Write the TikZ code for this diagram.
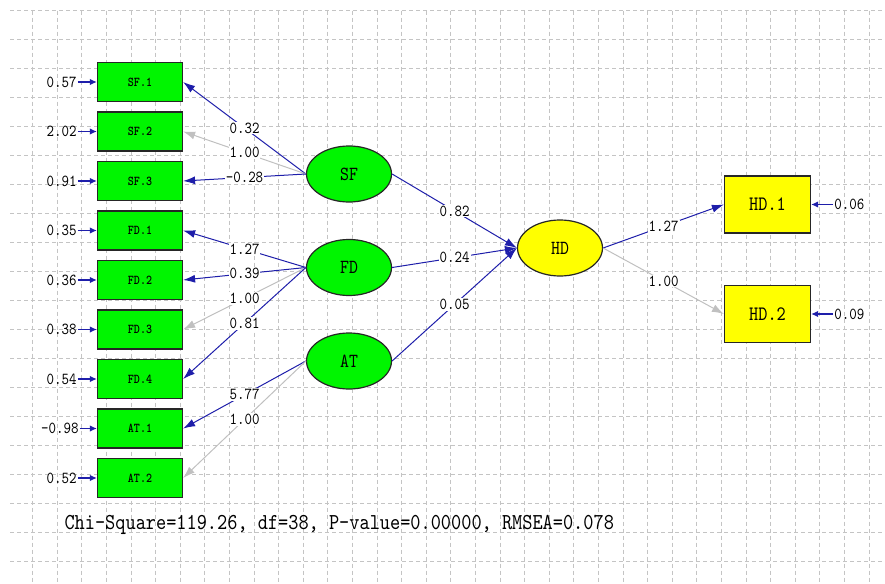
\documentclass[tikz,border=0pt]{standalone}
\usepackage{fontspec}
\usepackage{tikz}
\usetikzlibrary{arrows.meta}
\usetikzlibrary{shapes.geometric}
\usetikzlibrary{positioning}
\newfontfamily\lmono[FakeStretch=0.85,BoldFont=lmmonolt10-bold.otf]{lmmono10-regular.otf}
\definecolor{pathblue}{RGB}{30,30,170}
\definecolor{pathgray}{RGB}{192,192,192}
\definecolor{gridgray}{RGB}{196,196,196}
\definecolor{obsgreen}{RGB}{0,245,0}
\definecolor{obsyellow}{RGB}{255,255,0}

\begin{document}
\begin{tikzpicture}[x=1pt,y=-1pt,
	gridline/.style={gridgray,line width=0.8pt,dash pattern=on 4pt off 3pt},
	obsbox/.style={draw=black!85,line width=1.2pt,fill=obsgreen,minimum width=85pt,minimum height=39pt,inner sep=0pt,font=\lmono\bfseries\fontsize{13.5}{13.5}\selectfont},
	hdbox/.style={obsbox,fill=obsyellow,minimum width=86pt,minimum height=57pt,font=\lmono\fontsize{20.5}{20.5}\selectfont},
	latent/.style={ellipse,draw=black!85,line width=1.2pt,fill=obsgreen,minimum width=85pt,minimum height=56pt,inner sep=0pt,font=\lmono\fontsize{20}{20}\selectfont},
	errlabel/.style={inner sep=1pt,text=black,font=\lmono\fontsize{16.8}{16.8}\selectfont},
	pathlabel/.style={fill=white,inner sep=1pt,text=black,font=\lmono\fontsize{16.8}{16.8}\selectfont},
	bluepath/.style={pathblue,line width=1pt,-{Latex[length=12pt,width=8pt]}},
	graypath/.style={pathgray,line width=1pt,-{Latex[length=12pt,width=8pt]}},
	errpath/.style={pathblue,line width=1.5pt,-{Latex[length=7pt,width=6.5pt]}},
	node distance=49.5pt]
	 \useasboundingbox (0,0) rectangle (885,583);
	 % background grid
	 \foreach \k in {0,...,19}
	   \draw[gridline] (10,{10.7+29*\k}) -- (885,{10.7+29*\k});
	 \foreach \k in {0,...,34}
	   \draw[gridline] ({32.5+24.6*\k},10.7) -- ({32.5+24.6*\k},583);
	 % observed variables
	 \node[obsbox] (sf1) at (140,82) {SF.1};
	 \node[obsbox] (sf2) [below of=sf1]{SF.2};
	 \node[obsbox] (sf3) [below of=sf2]{SF.3};
	 \node[obsbox] (fd1) [below of=sf3]{FD.1};
	 \node[obsbox] (fd2) [below of=fd1]{FD.2};
	 \node[obsbox] (fd3) [below of=fd2]{FD.3};
	 \node[obsbox] (fd4) [below of=fd3]{FD.4};
	 \node[obsbox] (at1) [below of=fd4]{AT.1};
	 \node[obsbox] (at2) [below of=at1]{AT.2};
	 \node[hdbox] (hd1) at (767.5,204.5) {HD.1};
	 \node[hdbox] (hd2) at (767.5,314) {HD.2};
	 % latent variables
	 \node[latent] (SF) at (349,174) {SF};
	 \node[latent] (FD) [node distance=93.5pt,below of=SF]{FD};
	 \node[latent] (AT) [node distance=93.5pt,below of=FD]{AT};
	 \node[latent,fill=obsyellow] (HD) at (560,248) {HD};
	 % error variances
	 \node[errlabel] (esf1) [left=19pt of sf1]{0.57};
	 \node[errlabel] (esf2) [left=19pt of sf2]{2.02};
	 \node[errlabel] (esf3) [left=19pt of sf3]{0.91};
	 \node[errlabel] (efd1) [left=19pt of fd1]{0.35};
	 \node[errlabel] (efd2) [left=19pt of fd2]{0.36};
	 \node[errlabel] (efd3) [left=19pt of fd3]{0.38};
	 \node[errlabel] (efd4) [left=19pt of fd4]{0.54};
	 \node[errlabel] (eat1) [left=17pt of at1]{-0.98};
	 \node[errlabel] (eat2) [left=19pt of at2]{0.52};
	 \node[errlabel] (ehd1) [right=22pt of hd1]{0.06};
	 \node[errlabel] (ehd2) [right=22pt of hd2]{0.09};
	 \foreach \e/\v in {esf1/sf1,esf2/sf2,esf3/sf3,efd1/fd1,efd2/fd2,efd3/fd3,efd4/fd4,eat1/at1,eat2/at2,ehd1/hd1,ehd2/hd2}
	   \draw[errpath] (\e) -- (\v);
	 % loadings
	 \draw[bluepath] (SF.west) -- node[pathlabel]{0.32} (sf1.east);
	 \draw[graypath] (SF.west) -- node[pathlabel]{1.00} (sf2.east);
	 \draw[bluepath] (SF.west) -- node[pathlabel]{-0.28} (sf3.east);
	 \draw[bluepath] (FD.west) -- node[pathlabel]{1.27} (fd1.east);
	 \draw[bluepath] (FD.west) -- node[pathlabel]{0.39} (fd2.east);
	 \draw[graypath] (FD.west) -- node[pathlabel]{1.00} (fd3.east);
	 \draw[bluepath] (FD.west) -- node[pathlabel]{0.81} (fd4.east);
	 \draw[bluepath] (AT.west) -- node[pathlabel]{5.77} (at1.east);
	 \draw[graypath] (AT.west) -- node[pathlabel]{1.00} (at2.east);
	 \draw[bluepath] (HD.east) -- node[pathlabel]{1.27} (hd1.west);
	 \draw[graypath] (HD.east) -- node[pathlabel]{1.00} (hd2.west);
	 % structural paths
	 \draw[bluepath] (SF.east) -- node[pathlabel]{0.82} (HD.west);
	 \draw[bluepath] (FD.east) -- node[pathlabel]{0.24} (HD.west);
	 \draw[bluepath] (AT.east) -- node[pathlabel]{0.05} (HD.west);
	 % fit statistics
	 \node[anchor=west,font=\lmono\fontsize{22.8}{22.8}\selectfont] (fitstat) at (61,525) {Chi-Square=119.26, df=38, P-value=0.00000, RMSEA=0.078};
\end{tikzpicture}
\end{document}
